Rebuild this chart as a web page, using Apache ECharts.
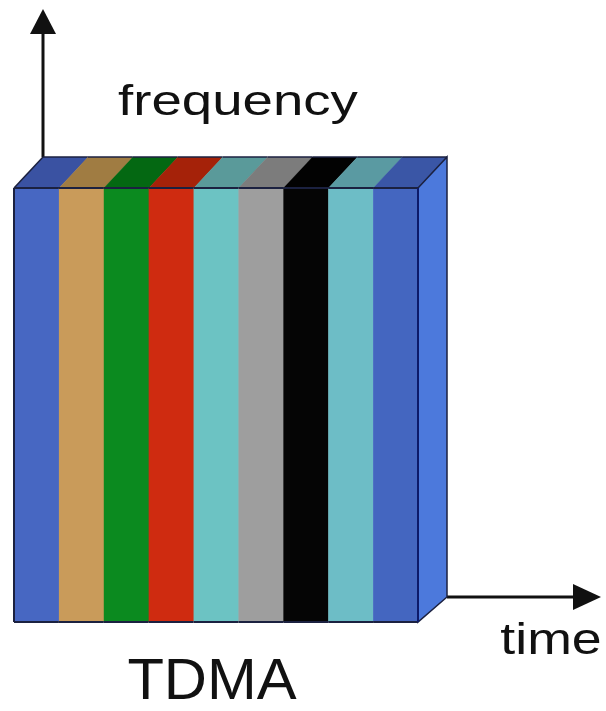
<!DOCTYPE html>
<html>
<head>
<meta charset="utf-8">
<script src="https://cdn.jsdelivr.net/npm/echarts@6/dist/echarts.min.js"></script>
<style>html,body{margin:0;padding:0;background:#fff;}#c{width:606px;height:711px;}</style>
</head>
<body>
<div id="c"></div>
<script>
// Time slots (one user per slot), each occupying the full frequency band
const slots = ['1', '2', '3', '4', '5', '6', '7', '8', '9'];
const bandLow = [0, 0, 0, 0, 0, 0, 0, 0, 0];
const bandHigh = [1, 1, 1, 1, 1, 1, 1, 1, 1];
const frontColors = ['#4767c2', '#c99b5a', '#0b8a1f', '#cf2b10', '#6cc3c3', '#9e9e9e', '#050505', '#6dbdc6', '#4466c0'];
const topColors = ['#3a52a2', '#a07c42', '#046812', '#a52209', '#5a9a9a', '#7c7c7c', '#020202', '#5a9aa2', '#3a56a6'];
const sideColor = '#4c79dc';
const labels = { freq: 'frequency', time: 'time', title: 'TDMA' };

const chart = echarts.init(document.getElementById('c'), null, { renderer: 'canvas' });
const DX = 29, DY = -31;
const edge = '#1b2140';

const option = {
  animation: false,
  backgroundColor: '#ffffff',
  grid: { left: 14, top: 188, width: 404, height: 434 },
  xAxis: { type: 'category', data: slots, show: false, boundaryGap: true },
  yAxis: { type: 'value', min: 0, max: 1, show: false },
  series: [{
    type: 'custom',
    data: slots.map((s, i) => [i, bandLow[i], bandHigh[i]]),
    renderItem: function (params, api) {
      const i = api.value(0);
      const t = api.coord([i, api.value(2)]);
      const b = api.coord([i, api.value(1)]);
      const w = api.size([1, 0])[0];
      const x0 = t[0] - w / 2, x1 = t[0] + w / 2;
      const yt = t[1], yb = b[1];
      const children = [
        { type: 'rect', shape: { x: x0, y: yt, width: w + 0.5, height: yb - yt }, style: { fill: frontColors[i] } },
        { type: 'polygon', shape: { points: [[x0, yt], [x1 + 0.5, yt], [x1 + DX + 0.5, yt + DY], [x0 + DX, yt + DY]] }, style: { fill: topColors[i] } },
        { type: 'line', shape: { x1: x0, y1: yt, x2: x1, y2: yt }, style: { stroke: edge, lineWidth: 2 } },
        { type: 'line', shape: { x1: x0, y1: yb, x2: x1, y2: yb }, style: { stroke: edge, lineWidth: 2 } },
        { type: 'line', shape: { x1: x0 + DX, y1: yt + DY, x2: x1 + DX, y2: yt + DY }, style: { stroke: edge, lineWidth: 1.5 } }
      ];
      if (i === 0) {
        children.push({ type: 'line', shape: { x1: x0, y1: yt, x2: x0, y2: yb }, style: { stroke: edge, lineWidth: 2 } });
        children.push({ type: 'line', shape: { x1: x0, y1: yt, x2: x0 + DX, y2: yt + DY }, style: { stroke: edge, lineWidth: 1.5 } });
      }
      if (i === slots.length - 1) {
        children.push({ type: 'polygon', shape: { points: [[x1, yt], [x1 + DX, yt + DY], [x1 + DX, yb + DY + 6], [x1, yb]] }, style: { fill: sideColor, stroke: edge, lineWidth: 1.5 } });
        children.push({ type: 'line', shape: { x1: x1, y1: yt, x2: x1, y2: yb }, style: { stroke: '#0d1a6a', lineWidth: 2 } });
      }
      return { type: 'group', children: children };
    }
  }],
  graphic: [
    // frequency axis arrow
    { type: 'line', shape: { x1: 43, y1: 157, x2: 43, y2: 28 }, style: { stroke: '#111', lineWidth: 3 } },
    { type: 'polygon', shape: { points: [[43, 9], [30, 34], [56, 34]] }, style: { fill: '#111' } },
    // time axis arrow
    { type: 'line', shape: { x1: 447, y1: 597, x2: 578, y2: 597 }, style: { stroke: '#111', lineWidth: 3 } },
    { type: 'polygon', shape: { points: [[601, 597], [573, 584], [573, 610]] }, style: { fill: '#111' } },
    // labels
    { type: 'text', x: 238, y: 124, scaleX: 1.3, style: { text: labels.freq, x: 0, y: 0, align: 'center', verticalAlign: 'bottom', font: '42px "Liberation Sans", Arial, sans-serif', fill: '#111' } },
    { type: 'text', x: 551, y: 664, scaleX: 1.22, style: { text: labels.time, x: 0, y: 0, align: 'center', verticalAlign: 'bottom', font: '44px "Liberation Sans", Arial, sans-serif', fill: '#111' } },
    { type: 'text', x: 212, y: 712, scaleX: 1.03, style: { text: labels.title, x: 0, y: 0, align: 'center', verticalAlign: 'bottom', font: '58px "Liberation Sans", Arial, sans-serif', fill: '#111' } }
  ]
};
chart.setOption(option);
</script>
</body>
</html>
